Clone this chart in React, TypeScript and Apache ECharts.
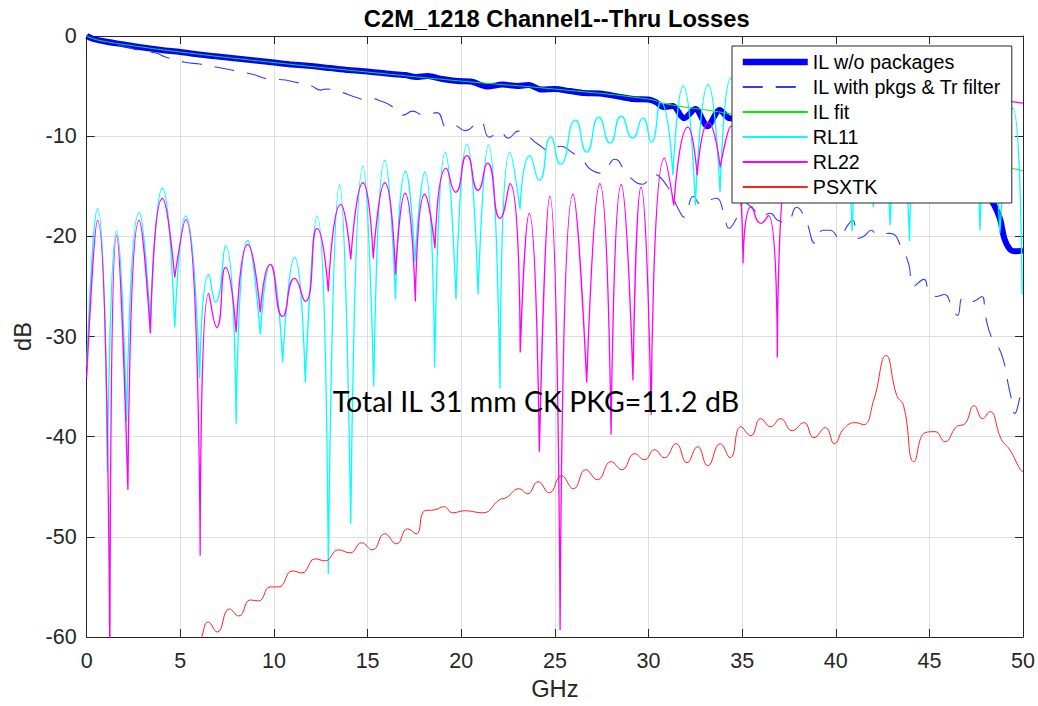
import React, { useEffect, useRef } from 'react';
import * as echarts from 'echarts';

// ---------- data ----------
const seriesNames = ['IL w/o packages', 'IL with pkgs & Tr filter', 'IL fit', 'RL11', 'RL22', 'PSXTK'];
const xTickStep = 5;
const yTickStep = 10;

const ilNoPkg: [number, number][] = [
  [0, 0], [0.3, -0.25], [1, -0.55], [2, -0.85], [3, -1.15], [4, -1.4], [5, -1.6], [6, -1.85], [7, -2.05],
  [8, -2.25], [9, -2.45], [10, -2.65], [11, -2.85], [12, -3.0], [13, -3.2], [14, -3.4], [15, -3.55],
  [16, -3.75], [17, -3.9], [17.6, -4.1], [18.2, -4.0], [19.0, -4.3], [19.8, -4.5], [20.5, -4.55],
  [21.4, -5.05], [22.2, -4.85], [23.0, -5.0], [23.6, -4.9], [24.3, -5.35], [25.0, -5.3], [25.8, -5.5],
  [26.6, -5.7], [27.4, -5.75], [28.4, -6.05], [29.2, -6.3], [30.0, -6.35], [30.4, -6.6], [30.8, -7.1],
  [31.3, -7.0], [31.9, -8.2], [32.5, -7.3], [33.15, -9.0], [33.8, -7.4], [34.3, -8.2], [35, -8.3],
  [36, -8.8], [37, -9.3], [38, -9.8], [39, -10.3], [40, -10.8], [41, -11.3], [42, -11.8], [43, -12.3],
  [44, -12.9], [45, -13.4], [46, -14.0], [47, -14.8], [47.8, -15.6], [48.3, -16.4], [48.76, -18.2],
  [49.0, -20.2], [49.3, -21.3], [49.6, -21.5], [50, -21.4],
];

const ilPkg: [number, number][] = [
  [0, 0], [0.4, -0.3], [1, -0.6], [2, -1.05], [2.84, -1.45], [3.7, -1.7], [4.2, -2.1], [5.3, -2.64],
  [6.03, -2.8], [7.18, -3.2], [7.9, -3.47], [8.95, -3.86], [9.7, -4.29], [10.3, -4.35], [10.8, -4.46],
  [11.56, -4.8], [12.0, -5.0], [12.5, -5.4], [12.75, -5.3], [13.4, -5.5], [14.45, -6.17], [15.0, -6.4],
  [15.3, -6.27], [15.7, -6.5], [16.22, -6.93], [16.9, -7.9], [17.4, -7.5], [18.0, -7.9], [18.7, -7.65],
  [19.23, -9.14], [19.6, -8.9], [20.2, -9.45], [21.0, -8.5], [21.5, -10.1], [22.07, -9.5], [22.5, -10.2],
  [23.05, -9.5], [24.1, -10.8], [24.8, -11.5], [25.3, -11.0], [25.9, -11.6], [26.5, -12.45], [26.9, -13.3],
  [27.5, -13.7], [28.2, -12.3], [28.9, -13.9], [29.7, -14.8], [30.25, -13.8], [31.0, -15.0], [31.6, -17.3],
  [31.9, -18.1], [32.4, -16.0], [32.8, -16.8], [33.6, -16.2], [34.0, -17.5], [34.3, -19.2], [34.7, -18.2],
  [35.1, -16.6], [35.6, -17.3], [36.0, -18.0], [36.5, -17.7], [36.9, -18.4], [37.4, -18.6], [37.9, -17.1],
  [38.4, -18.4], [38.9, -20.7], [39.3, -19.4], [39.7, -19.4], [40.2, -20.2], [40.6, -19.0], [40.9, -18.4],
  [41.2, -20.2], [41.5, -20.0], [41.9, -19.4], [42.2, -19.8], [42.9, -19.7], [43.6, -21.5], [43.9, -22.8],
  [44.15, -25.0], [44.7, -24.3], [45.0, -25.6], [45.4, -26.0], [45.8, -25.8], [46.2, -27.0], [46.5, -27.9],
  [46.8, -26.1], [47.3, -26.5], [47.8, -26.0], [48.0, -28.0], [48.3, -30.0], [48.7, -31.1], [49.0, -32.7],
  [49.2, -34.7], [49.4, -36.4], [49.55, -37.7], [49.9, -35.7], [50, -35.4],
];

const ilFit: [number, number][] = [
  [0, 0], [0.3, -0.25], [1, -0.55], [2, -0.85], [5, -1.6], [10, -2.65], [15, -3.6], [20, -4.5],
  [25, -5.3], [30, -6.3], [31, -6.8], [34, -7.65], [38, -9.0], [42, -10.4], [46, -11.9], [49.1, -13.1],
  [50, -13.45],
];

const rl11: [number, number][] = [
  [0, -33.0], [0.58, -17.2], [1.1, -43.5], [1.6, -19.5], [2.13, -38.5], [2.8, -17.6], [3.4, -28.8],
  [4.04, -15.2], [4.7, -29.1], [5.28, -17.95], [6.03, -34.2], [6.52, -23.8], [6.88, -26.6], [7.41, -20.9],
  [7.98, -38.7], [8.6, -20.4], [9.27, -29.8], [9.8, -22.8], [10.46, -32.6], [11.1, -22.1], [11.67, -34.6],
  [12.3, -17.95], [12.9, -53.7], [13.5, -14.85], [14.1, -48.7], [14.75, -13.0], [15.33, -35.0],
  [15.92, -12.4], [16.49, -26.3], [17.02, -13.5], [17.52, -22.5], [18.05, -13.6], [18.58, -33.1],
  [19.15, -11.6], [19.72, -26.3], [20.3, -10.8], [20.9, -25.8], [21.45, -10.9], [22.07, -35.2],
  [22.6, -11.6], [23.14, -17.3], [23.67, -11.95], [24.17, -14.4], [24.78, -10.1], [25.3, -12.8],
  [26.1, -8.4], [26.7, -11.6], [27.35, -8.1], [27.95, -10.7], [28.54, -8.0], [29.15, -10.2], [29.7, -8.2],
  [30.15, -10.6], [30.65, -6.6], [31.3, -13.9], [31.85, -5.0], [32.5, -16.9], [33.18, -4.85],
  [33.82, -15.6], [34.4, -4.2], [35.0, -13.0], [35.6, -5.0], [36.2, -12.5], [36.8, -5.8], [37.4, -13.5],
  [38.0, -6.5], [38.6, -14.0], [39.2, -7.0], [39.8, -15.0], [40.3, -8.0], [40.87, -19.5], [41.45, -8.5],
  [42.0, -17.1], [42.45, -9.0], [42.9, -18.9], [43.4, -9.0], [43.94, -20.5], [44.4, -9.0], [44.9, -14.0],
  [45.4, -9.0], [45.9, -14.0], [46.4, -9.0], [46.85, -15.0], [47.25, -9.0], [47.7, -19.4], [48.2, -8.5],
  [48.76, -19.7], [49.45, -7.2], [49.95, -25.8],
];

const rl22: [number, number][] = [
  [0, -34.1], [0.58, -18.4], [1.24, -64], [1.6, -19.9], [2.2, -45.3], [2.8, -18.4], [3.4, -29.7],
  [4.04, -16.2], [4.7, -24.1], [5.28, -18.3], [6.06, -51.9], [6.52, -25.7], [6.95, -29.1], [7.41, -23.1],
  [7.98, -29.6], [8.6, -20.8], [9.27, -27.6], [9.8, -22.8], [10.46, -28.0], [11.1, -24.2], [11.67, -26.5],
  [12.3, -19.2], [12.9, -25.5], [13.56, -16.8], [14.1, -22.3], [14.75, -14.65], [15.3, -22.2],
  [15.92, -14.65], [16.49, -23.8], [17.0, -15.7], [17.55, -26.5], [18.05, -15.8], [18.6, -21.2],
  [19.2, -13.2], [19.7, -15.6], [20.3, -11.95], [20.9, -15.4], [21.4, -12.7], [22.07, -18.2],
  [22.6, -14.75], [23.15, -31.6], [23.63, -17.7], [24.17, -41.5], [24.73, -16.0], [25.28, -59.3],
  [25.97, -15.8], [26.7, -34.6], [27.4, -14.75], [28.0, -39.8], [28.54, -14.85], [29.17, -34.4],
  [29.6, -15.1], [30.14, -37.8], [30.85, -12.2], [31.35, -16.9], [32.1, -9.1], [32.6, -13.9], [33.2, -8.65],
  [33.83, -13.1], [34.4, -9.0], [35.05, -22.7], [35.5, -17.0], [36.0, -18.7], [36.4, -17.9], [36.88, -32.1],
  [37.6, -12.0], [38.3, -15.5], [38.9, -11.0], [39.5, -15.0], [40.1, -10.5], [40.7, -14.0], [41.3, -10.0],
  [41.9, -13.5], [42.5, -10.0], [43.1, -14.0], [43.7, -9.5], [44.3, -14.0], [44.9, -9.0], [45.5, -13.0],
  [46.1, -8.5], [46.7, -13.0], [47.3, -8.0], [47.9, -12.0], [49.0, -6.5], [50, -6.7],
];

const psxtk: [number, number][] = [
  [5.8, -61.5], [6.1, -60.2], [6.49, -58.5], [6.97, -59.5], [7.62, -57.2], [8.12, -57.9], [8.74, -56.3],
  [9.18, -56.4], [9.8, -55.0], [10.25, -55.0], [10.99, -53.4], [11.49, -53.6], [12.2, -52.2], [12.73, -52.4],
  [13.44, -51.3], [14.06, -51.6], [14.68, -50.6], [15.25, -51.3], [15.92, -49.7], [16.54, -50.7],
  [17.13, -49.2], [17.6, -49.7], [18.05, -47.4], [18.58, -47.3], [19.07, -47.0], [19.55, -47.6],
  [20.18, -47.4], [21.15, -47.6], [22.04, -46.3], [22.39, -46.1], [23.1, -45.2], [23.54, -45.7],
  [24.1, -44.5], [24.7, -45.6], [25.35, -43.9], [25.99, -45.2], [26.65, -43.3], [27.27, -44.3],
  [28.0, -42.5], [28.58, -43.3], [29.26, -41.7], [29.79, -42.3], [30.32, -41.3], [30.85, -42.1],
  [31.47, -40.7], [32.05, -42.6], [32.62, -41.0], [33.16, -42.9], [33.83, -40.7], [34.36, -42.1],
  [34.93, -39.0], [35.46, -39.9], [35.99, -38.2], [36.52, -39.0], [37.05, -38.2], [37.67, -39.4],
  [38.3, -38.6], [38.83, -40.1], [39.45, -39.1], [39.93, -40.7], [40.43, -39.2], [41.04, -38.6],
  [41.49, -38.8], [42.02, -36.4], [42.69, -31.9], [43.26, -35.9], [43.62, -36.9], [44.18, -42.5],
  [44.77, -39.6], [45.3, -39.5], [45.83, -40.5], [46.45, -39.0], [46.9, -38.7], [47.39, -36.9],
  [47.84, -38.2], [48.22, -37.5], [48.85, -40.3], [49.29, -41.3], [49.86, -43.3], [50, -43.5],
];

const annotation = 'Total IL 31 mm CK PKG=11.2 dB';
const titleText = 'C2M_1218 Channel1--Thru Losses';

// Split a return-loss trace at its sharp nulls so each lobe is smoothed separately
function lobes(pts: [number, number][], minDrop: number): (number | null)[][] {
  const out: (number | null)[][] = [];
  for (let i = 0; i < pts.length; i++) {
    const p = pts[i];
    out.push(p);
    if (i > 0 && i < pts.length - 1) {
      const a = pts[i - 1][1];
      const b = pts[i + 1][1];
      if (a - p[1] >= minDrop && b - p[1] >= minDrop) {
        out.push([p[0], null]);
        out.push(p);
      }
    }
  }
  return out;
}

const FONT = '"Liberation Sans", Arial, Helvetica, sans-serif';
const AX = '#262626';

export default function App() {
  const ref = useRef<HTMLDivElement>(null);
  useEffect(() => {
    document.body.style.margin = '0';
    if (!ref.current) return;
    const chart = echarts.init(ref.current, undefined, { renderer: 'svg' });
    const axisCommon = {
      axisLine: { show: true, onZero: false, lineStyle: { color: AX, width: 1 } },
      axisTick: { show: true, inside: true, length: 8, lineStyle: { color: AX, width: 1 } },
    };
    const line = (name: string, data: any, color: string, width: number, smooth: number, extra: any = {}) => ({
      type: 'line',
      name,
      data,
      symbol: 'none',
      showSymbol: false,
      smooth,
      silent: true,
      connectNulls: false,
      lineStyle: { color, width, ...(extra.lineStyle || {}) },
      itemStyle: { color },
      emphasis: { disabled: true },
      xAxisIndex: 0,
      yAxisIndex: 0,
    });
    chart.setOption({
      animation: false,
      backgroundColor: '#ffffff',
      title: {
        text: titleText,
        left: 556.7,
        top: 6.5,
        textAlign: 'center',
        padding: 0,
        textStyle: { fontFamily: FONT, fontSize: 23.7, fontWeight: 'bold', color: '#000' },
      },
      grid: { left: 86.7, right: 11.3, top: 36, bottom: 64, containLabel: false },
      xAxis: [
        {
          type: 'value', min: 0, max: 50, interval: xTickStep, position: 'bottom',
          name: 'GHz', nameLocation: 'middle', nameGap: 40,
          nameTextStyle: { fontFamily: FONT, fontSize: 23.7, color: AX },
          ...axisCommon,
          axisLabel: { margin: 13, fontFamily: FONT, fontSize: 21.5, color: AX },
          splitLine: { show: true, lineStyle: { color: '#dfdfdf', width: 1 } },
        },
        {
          type: 'value', min: 0, max: 50, interval: xTickStep, position: 'top',
          ...axisCommon, axisLabel: { show: false }, splitLine: { show: false },
        },
      ],
      yAxis: [
        {
          type: 'value', min: -60, max: 0, interval: yTickStep, position: 'left',
          name: 'dB', nameLocation: 'middle', nameGap: 48,
          nameTextStyle: { fontFamily: FONT, fontSize: 23.7, color: AX },
          ...axisCommon,
          axisLabel: { margin: 10, fontFamily: FONT, fontSize: 21.5, color: AX },
          splitLine: { show: true, lineStyle: { color: '#dfdfdf', width: 1 } },
        },
        {
          type: 'value', min: -60, max: 0, interval: yTickStep, position: 'right',
          ...axisCommon, axisLabel: { show: false }, splitLine: { show: false },
        },
      ],
      legend: {
        orient: 'vertical',
        left: 732,
        top: 46,
        padding: [6, 10.5, 6, 7.5],
        itemWidth: 65,
        itemHeight: 14,
        itemGap: 5,
        backgroundColor: '#ffffff',
        borderColor: AX,
        borderWidth: 1,
        borderRadius: 0,
        selectedMode: false,
        itemStyle: { opacity: 0 },
        textStyle: { fontFamily: FONT, fontSize: 19.7, color: '#000' },
        data: seriesNames.map((n, i) => (i === 0 ? { name: n, lineStyle: { width: 6.5 } } : { name: n })),
        z: 10,
      },
      graphic: [
        {
          type: 'text',
          left: 332.7,
          top: 386.5,
          z: 5,
          style: { text: annotation, font: '28.5px Lato, "Open Sans", sans-serif', fill: '#000' },
        },
      ],
      series: [
        line(seriesNames[0], ilNoPkg, '#0000ff', 6, 0.3),
        line(seriesNames[1], ilPkg, '#3040f0', 1.1, 0.5, { lineStyle: { type: [20, 13] } }),
        line(seriesNames[2], ilFit, '#00ee00', 1, 0.5),
        line(seriesNames[3], lobes(rl11, 4), '#00ffff', 1.3, 0.6),
        line(seriesNames[4], lobes(rl22, 4), '#ff00ff', 1.3, 0.6),
        line(seriesNames[5], psxtk, '#ff2020', 1, 0.5),
      ],
    });
    return () => chart.dispose();
  }, []);
  return <div ref={ref} style={{ width: 1038, height: 706 }} />;
}
